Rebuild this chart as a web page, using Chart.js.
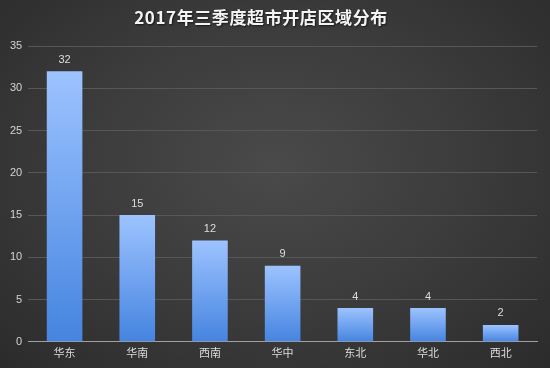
<!DOCTYPE html>
<html>
<head>
<meta charset="utf-8">
<script src="https://cdn.jsdelivr.net/npm/chart.js@4/dist/chart.umd.min.js"></script>
<style>
  html, body { margin: 0; padding: 0; }
  #wrap {
    width: 550px; height: 368px;
    background: radial-gradient(ellipse at 50% 45%, #4a4a4a 0%, #3a3a3a 55%, #2b2b2b 100%);
  }
</style>
</head>
<body>
<div id="wrap"><canvas id="chart" width="550" height="368"></canvas></div>
<script>
const title = "2017年三季度超市开店区域分布";
const regions = ["华东", "华南", "西南", "华中", "东北", "华北", "西北"];
const stores = [32, 15, 12, 9, 4, 4, 2];
const y_ticks = [0, 5, 10, 15, 20, 25, 30, 35];

const font_family = "'Noto Sans CJK SC', 'Liberation Sans', sans-serif";

// spaced-out title, drawn by hand so letter spacing can be set
const spaced_title = {
    id: "spaced_title",
    afterDraw(chart) {
        const ctx = chart.ctx;
        ctx.save();
        ctx.font = "bold 17px " + font_family;
        ctx.letterSpacing = "0.6px";
        ctx.fillStyle = "#f4f4f4";
        ctx.textAlign = "center";
        ctx.textBaseline = "middle";
        ctx.shadowColor = "rgba(0,0,0,0.6)";
        ctx.shadowOffsetX = 1;
        ctx.shadowOffsetY = 1;
        ctx.shadowBlur = 2;
        ctx.fillText(title, 261, 18);
        ctx.restore();
    }
};

// bar labels drawn just above each bar
const value_labels = {
    id: "value_labels",
    afterDatasetsDraw(chart) {
        const ctx = chart.ctx;
        const meta = chart.getDatasetMeta(0);
        ctx.save();
        ctx.fillStyle = "#dddddd";
        ctx.font = "11px 'Liberation Sans', sans-serif";
        ctx.textAlign = "center";
        ctx.textBaseline = "bottom";
        meta.data.forEach((bar, i) => {
            ctx.fillText(stores[i], bar.x, bar.y - 6);
        });
        ctx.restore();
    }
};

new Chart("chart", {
    type: "bar",
    data: {
        labels: regions,
        datasets: [{
            data: stores,
            backgroundColor: function(context) {
                const chart = context.chart;
                if (!chart.chartArea) return "#7aa8f0";
                const y = chart.scales.y;
                const top = y.getPixelForValue(context.raw);
                const bottom = y.getPixelForValue(0);
                const g = chart.ctx.createLinearGradient(0, top, 0, bottom);
                g.addColorStop(0, "#9dc3ff");
                g.addColorStop(1, "#4584e0");
                return g;
            },
            borderWidth: 0,
            barPercentage: 1,
            categoryPercentage: 0.49
        }]
    },
    plugins: [value_labels, spaced_title],
    options: {
        responsive: false,
        animation: false,
        layout: {
            padding: { left: 4, right: 13, top: 46, bottom: 5 }
        },
        plugins: {
            legend: { display: false },
            tooltip: { enabled: false },
            title: { display: false }
        },
        scales: {
            x: {
                grid: { display: false, drawTicks: false },
                border: { color: "#a0a0a0", width: 1 },
                ticks: {
                    color: "#dddddd",
                    font: { size: 11, family: font_family },
                    padding: 4
                }
            },
            y: {
                min: 0,
                max: 35,
                afterBuildTicks: function(axis) {
                    axis.ticks = y_ticks.map((v) => ({ value: v }));
                },
                grid: { color: "#575757", drawTicks: false },
                border: { display: false },
                ticks: {
                    color: "#d4d4d4",
                    font: { size: 11, family: "'Liberation Sans', sans-serif" },
                    padding: 6
                }
            }
        }
    }
});
</script>
</body>
</html>
